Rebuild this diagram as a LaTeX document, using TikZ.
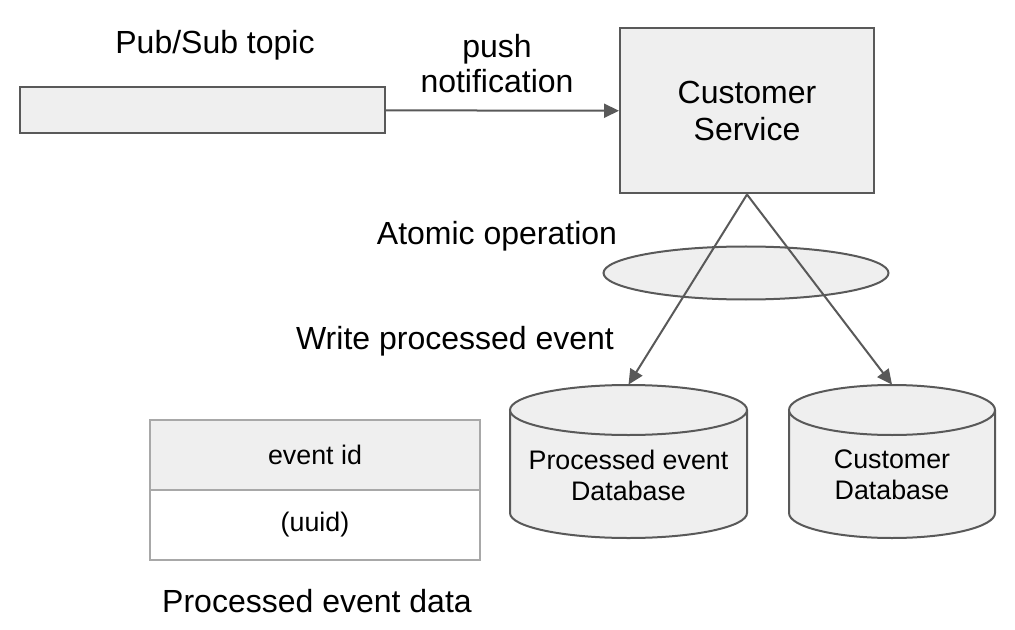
\documentclass[tikz,border=0pt]{standalone}
\usepackage{fontspec}
\setmainfont{Liberation Sans}
\usetikzlibrary{shapes.geometric,arrows.meta}
\definecolor{boxfill}{HTML}{EFEFEF}
\definecolor{boxline}{HTML}{595959}
\definecolor{tabline}{HTML}{A8A8A8}
% database drum: centre x, width (px), x radius
\newcommand{\drum}[3]{%
  \draw[box] (#1-#2/2, 410) -- (#1-#2/2, 513) arc[start angle=180,end angle=360,x radius=#3,y radius=12.5pt] -- (#1+#2/2, 410);
  \draw[box] (#1, 410) ellipse[x radius=#3,y radius=12.5pt];}
\begin{document}
\begin{tikzpicture}[x=0.5pt,y=-0.5pt,
    box/.style={draw=boxline,fill=boxfill,line width=1pt,inner sep=0pt},
    lbl/.style={font=\fontsize{16}{17.5}\selectfont,align=center,inner sep=0pt},
    small/.style={font=\fontsize{13.4}{15.5}\selectfont,align=center,inner sep=0pt},
    db/.style={small,minimum height=90pt},
    cell/.style={draw=tabline,line width=1pt,minimum width=165pt,minimum height=35pt,inner sep=0pt,small},
    link/.style={draw=boxline,line width=1pt,-{Triangle[length=7.5pt,width=7pt]}}]
    \useasboundingbox (0,0) rectangle (1015,630);
    \node[lbl] (topiclbl) at (215, 45) {Pub/Sub topic};
    \node[box,minimum width=182.5pt,minimum height=23pt] (topic) at (202.5, 110) {};
    \node[lbl] (push) at (497, 64) {push\\notification};
    \node[box,lbl,font=\fontsize{16}{18.5}\selectfont,minimum width=127pt,minimum height=82.5pt] (cs) at (747, 111) {Customer\\Service};
    \node[lbl] (atomic) at (497, 236) {Atomic operation};
    \node[box,ellipse,minimum width=142.5pt,minimum height=26.5pt] (op) at (746, 273) {};
    \node[lbl] (write) at (455, 341) {Write processed event};
    \drum{628.5}{237}{59.25pt}
    \drum{892}{206}{51.5pt}
    \node[db,minimum width=118.5pt] (pdb) at (628.5, 475) {Processed event\\Database};
    \node[db,minimum width=103pt] (cdb) at (892, 475) {Customer\\Database};
    \node[cell,fill=boxfill] (eid) at (315, 455) {event id};
    \node[cell,fill=white] (uuid) at (315, 525) {(uuid)};
    \node[lbl] (datalbl) at (317, 601) {Processed event data};
    \draw [link] (topic) to node {} (cs);
    \draw [link] (cs.south) to node {} (pdb.north);
    \draw [link] (cs.south) to node {} (cdb.north);
\end{tikzpicture}
\end{document}
